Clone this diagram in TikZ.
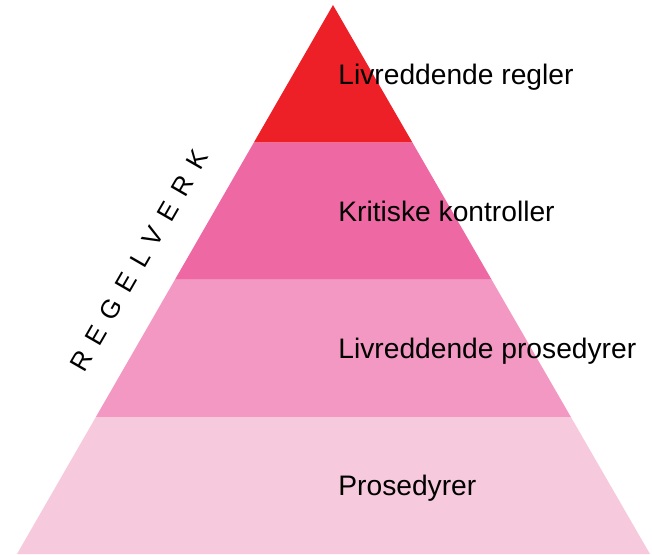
\documentclass[tikz,border=0pt]{standalone}
\usepackage{fontspec}
\setmainfont{Liberation Sans}
\newfontfamily\spacedfont[LetterSpace=45]{Liberation Sans}
\usepackage{tikz}
\usepackage{xcolor}
\definecolor{levelRed}{RGB}{237,31,39}
\definecolor{levelDark}{RGB}{238,104,164}
\definecolor{levelMid}{RGB}{243,152,194}
\definecolor{levelLight}{RGB}{247,201,221}
\tikzstyle{levelText}=[anchor=base west, inner sep=0pt, font=\fontsize{14.1}{16}\selectfont]

\begin{document}
\begin{tikzpicture}[x=0.5pt, y=0.5pt]
  \useasboundingbox (0,0) rectangle (652,554);

  % Corners of the pyramid
  \coordinate (top) at (333,549);
  \coordinate (baseL) at (17,0);
  \coordinate (baseR) at (650,0);

  % Levels
  \fill[levelLight] (baseL) -- (baseR) -- (570.75,137.25) -- (96,137.25) -- cycle;
  \fill[levelMid] (96,137.25) -- (570.75,137.25) -- (491.5,274.5) -- (175,274.5) -- cycle;
  \fill[levelDark] (175,274.5) -- (491.5,274.5) -- (412.25,411.75) -- (254,411.75) -- cycle;
  \fill[levelRed] (254,411.75) -- (412.25,411.75) -- (top) -- cycle;

  % Labels
  \node (regler) at (338,470) [levelText] {Livreddende regler};
  \node (kontroller) at (338,332.7) [levelText] {Kritiske kontroller};
  \node (livprosedyrer) at (338,195.6) [levelText] {Livreddende prosedyrer};
  \node (prosedyrer) at (338,58.6) [levelText] {Prosedyrer};

  \node (regelverk) at (84,180) [anchor=base west, inner sep=0pt, rotate=60, font=\spacedfont\fontsize{13}{15}\selectfont] {REGELVERK};

\end{tikzpicture}
\end{document}
